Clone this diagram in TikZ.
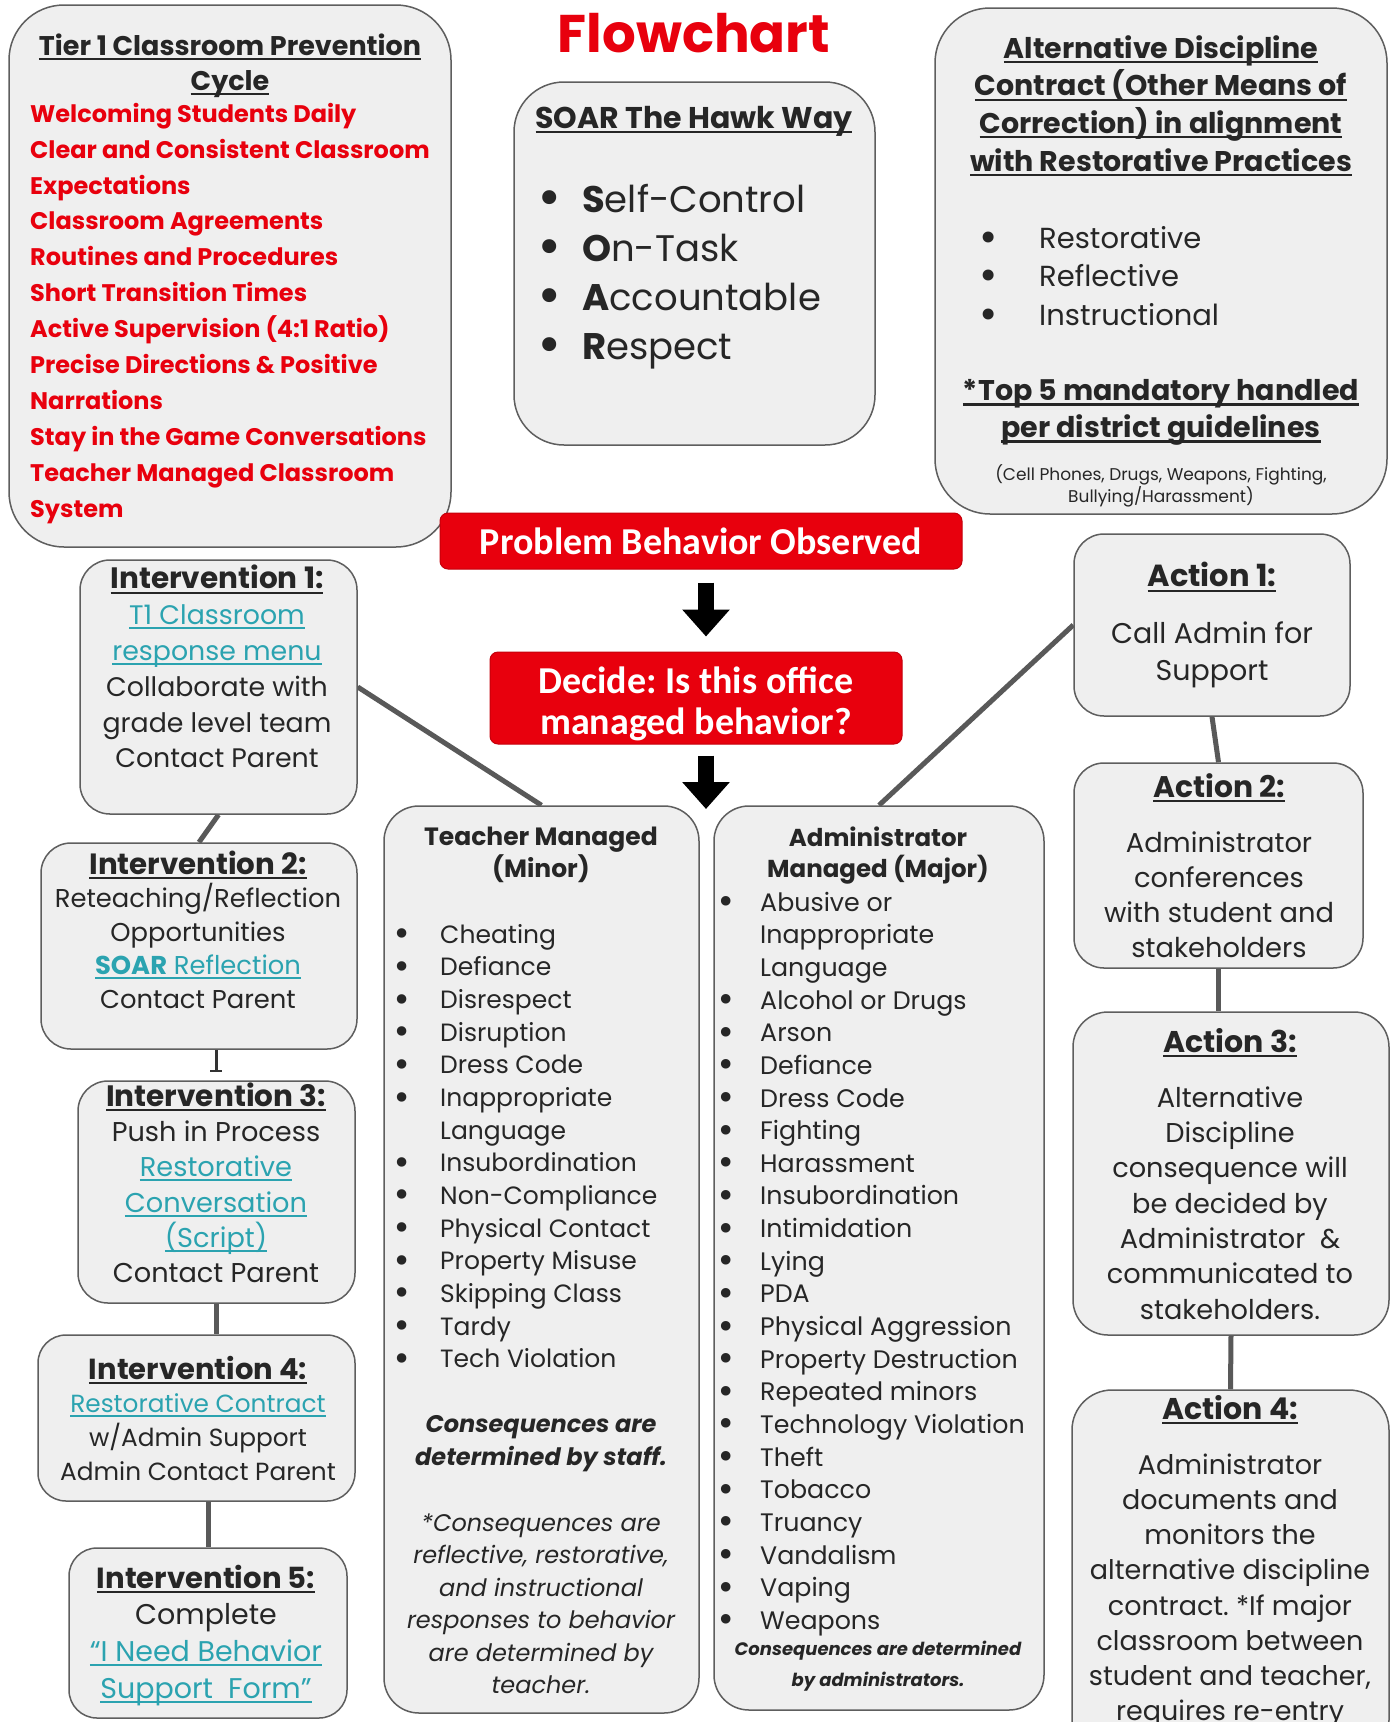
\documentclass[tikz,border=0pt]{standalone}
\usepackage{fontspec}
\usepackage{graphicx}
\setmainfont{Poppins}
\newfontfamily\crl{Carlito}
\newfontfamily\djv{DejaVu Sans}
\usetikzlibrary{fit,arrows.meta,calc}
\pgfdeclarelayer{bg}
\pgfsetlayers{bg,main}
\frenchspacing
\definecolor{boxfill}{HTML}{EFEFEF}
\definecolor{boxline}{HTML}{5E5E5E}
\definecolor{connc}{HTML}{595959}
\definecolor{myred}{HTML}{E8000D}
\definecolor{linkc}{HTML}{2BA3B0}
\definecolor{txtc}{HTML}{262626}
\newsavebox\ulbox
\newcommand\myul[1]{\sbox\ulbox{#1}\rlap{\rule[-0.17em]{\wd\ulbox}{0.075em}}\usebox\ulbox}
\newcommand\fl{\rule{0pt}{1em}}
\newcommand\fs[2]{\fontsize{#1}{#2}\selectfont}
\newcommand\lk[1]{{\color{linkc}\myul{#1}}}
\newcommand\hd[2]{{\fs{#1}{10}\bfseries\myul{#2}}}
\newcommand\bu{\makebox[0pt][c]{\raisebox{-0.1em}{\scalebox{1.3}{\djv •}}}}
\newcommand\lt[1]{\bu\hspace*{38pt}#1}
\newcommand\la[1]{\bu\hspace*{34pt}#1}
\begin{document}
\begin{tikzpicture}[x=1pt,y=-1pt,
  box/.style={draw=boxline,fill=boxfill,line width=1.5pt,inner sep=0pt},
  redbox/.style={fill=myred,draw=myred!85!black,line width=1pt,rounded corners=8pt,inner sep=0pt},
  conn/.style={draw=connc,line width=5pt},
  tx/.style={anchor=north,inner sep=0pt,align=center,text=txtc},
  txl/.style={anchor=north west,inner sep=0pt,align=left,text=txtc},
  redtx/.style={inner sep=0pt,align=center,text=white,font=\crl\bfseries\fs{38}{41}},
  blockarr/.style={line width=16pt,draw=black,-{Triangle[length=27pt 0 0,width=46pt 0 0]}}]
\begin{pgfonlayer}{bg}
\fill[white] (0,0) rectangle (1391,1722);
\end{pgfonlayer}
\useasboundingbox (0,0) rectangle (1391,1722);

% ---------- top boxes ----------
\node[box,rounded corners=55pt,fit={(9,5)(451,547)}] (tier) {};
\node[tx,font=\fs{27}{35}\bfseries] (tiert) at (230,55-27)
  {\fl\myul{Tier 1 Classroom Prevention}\\\myul{Cycle}};
\node[txl,font=\fs{24}{35.9}\bfseries,text=myred] (tierl) at (30,122-24)
  {\fl Welcoming Students Daily\\ Clear and Consistent Classroom\\ Expectations\\ Classroom Agreements\\ Routines and Procedures\\ Short Transition Times\\ Active Supervision (4:1 Ratio)\\ Precise Directions \& Positive\\ Narrations\\ Stay in the Game Conversations\\ Teacher Managed Classroom\\ System};

\node[anchor=base,inner sep=0pt,font=\fs{53}{55}\bfseries,text=myred] (title) at (694,52) {Flowchart};

\node[box,rounded corners=50pt,fit={(514,82)(875,445)}] (soar) {};
\node[tx,font=\fs{30}{32}\bfseries] (soart) at (694,128-30) {\fl\myul{SOAR The Hawk Way}};
\node[txl,font=\fs{37}{49}] (soarl) at (549,212-37)
  {\fl\bu\hspace*{33pt}\textbf{S}elf-Control\\ \bu\hspace*{33pt}\textbf{O}n-Task\\ \bu\hspace*{33pt}\textbf{A}ccountable\\ \bu\hspace*{33pt}\textbf{R}espect};

\node[box,rounded corners=55pt,fit={(935,8)(1387,514)}] (alt) {};
\node[tx,font=\fs{28.5}{37.7}\bfseries] (altt) at (1161,58-28.5)
  {\fl\myul{Alternative Discipline}\\ \myul{Contract (Other Means of}\\ \myul{Correction) in alignment}\\ \myul{with Restorative Practices}};
\node[txl,font=\fs{29}{38.5}] (altl) at (988,248-29)
  {\fl\bu\hspace*{51pt}Restorative\\ \bu\hspace*{51pt}Reflective\\ \bu\hspace*{51pt}Instructional};
\node[tx,font=\fs{28.5}{37}\bfseries] (top5) at (1161,400.5-28.5)
  {\fl\myul{*Top 5 mandatory handled}\\ \myul{per district guidelines}};
\node[tx,font=\fs{17}{22}] (cells) at (1161,480-17)
  {\fl(Cell Phones, Drugs, Weapons, Fighting,\\ Bullying/Harassment)};

% ---------- red decision boxes ----------
\node[redbox,minimum width=522pt,minimum height=56pt] (pbo) at (701,541) {};
\node[redtx] (pbot) at (pbo.center) {Problem Behavior Observed};
\node[redbox,minimum width=412pt,minimum height=92pt] (dec) at (696,698) {};
\node[redtx] (dect) at (696,704) {Decide: Is this office\\ managed behavior?};
\coordinate (ax) at (706,0);
\coordinate (split) at (706,809);
\draw[blockarr,shorten <=13pt,shorten >=15pt] (pbo.south -| ax) -- (dec.north -| ax);
\draw[blockarr,shorten <=11pt] (dec.south -| split) -- (split);

% ---------- interventions ----------
\node[box,rounded corners=30pt,fit={(80,560)(357,814)}] (int1) {};
\node[tx,font=\fs{26.8}{35.8}] (int1t) at (217,588.6-26.8)
  {\fl\hd{29.5}{Intervention 1:}\\ \lk{T1 Classroom}\\ \lk{response menu}\\ Collaborate with\\ grade level team\\ Contact Parent};
\node[box,rounded corners=30pt,fit={(41,843)(357,1049)}] (int2) {};
\node[tx,font=\fs{25.8}{33.5}] (int2t) at (198,874-25.8)
  {\fl\hd{29.3}{Intervention 2:}\\ Reteaching/Reflection\\ Opportunities\\ {\color{linkc}\myul{\textbf{SOAR} Reflection}}\\ Contact Parent};
\node[box,rounded corners=30pt,fit={(78,1081)(355,1303)}] (int3) {};
\node[tx,font=\fs{27.2}{35.3}] (int3t) at (216,1106-27.2)
  {\fl\hd{29.5}{Intervention 3:}\\ Push in Process\\ \lk{Restorative}\\ \lk{Conversation}\\ \lk{(Script)}\\ Contact Parent};
\node[box,rounded corners=28pt,fit={(38,1335)(355,1501)}] (int4) {};
\node[tx,font=\fs{24.8}{33.6}] (int4t) at (198,1379-24.8)
  {\fl\hd{29}{Intervention 4:}\\ \lk{Restorative Contract}\\ w/Admin Support\\ Admin Contact Parent};
\node[box,rounded corners=28pt,fit={(69,1548)(347,1718)}] (int5) {};
\node[tx,font=\fs{28.5}{36.7}] (int5t) at (206,1588-28.5)
  {\fl\hd{29.1}{Intervention 5:}\\ Complete\\ \lk{“I Need Behavior}\\ \lk{Support~ Form”}};

% ---------- teacher / admin ----------
\node[box,rounded corners=35pt,fit={(384,806)(699,1713)}] (teach) {};
\node[tx,font=\fs{25}{31.8}\bfseries] (teacht) at (541,845-25) {\fl Teacher Managed\\ (Minor)};
\node[txl,font=\fs{25}{32.66}] (teachl) at (402,943-25)
  {\fl\lt{Cheating}\\ \lt{Defiance}\\ \lt{Disrespect}\\ \lt{Disruption}\\ \lt{Dress Code}\\ \lt{Inappropriate}\\ \hspace*{38pt}Language\\ \lt{Insubordination}\\ \lt{Non-Compliance}\\ \lt{Physical Contact}\\ \lt{Property Misuse}\\ \lt{Skipping Class}\\ \lt{Tardy}\\ \lt{Tech Violation}};
\node[tx,font=\fs{24}{33}\bfseries\itshape] (teachc) at (541,1432-24) {\fl Consequences are\\ determined by staff.};
\node[tx,font=\fs{24}{32.5}\itshape] (teachn) at (541,1531-24)
  {\fl *Consequences are\\ reflective, restorative,\\ and instructional\\ responses to behavior\\ are determined by\\ teacher.};

\node[box,rounded corners=35pt,fit={(714,806)(1044,1710)}] (adm) {};
\node[tx,font=\fs{24.5}{31.6}\bfseries] (admt) at (878,846-24.5) {\fl Administrator\\ Managed (Major)};
\node[txl,font=\fs{25.3}{32.64}] (adml) at (726,911-25.3)
  {\fl\la{Abusive or}\\ \hspace*{34pt}Inappropriate\\ \hspace*{34pt}Language\\ \la{Alcohol or Drugs}\\ \la{Arson}\\ \la{Defiance}\\ \la{Dress Code}\\ \la{Fighting}\\ \la{Harassment}\\ \la{Insubordination}\\ \la{Intimidation}\\ \la{Lying}\\ \la{PDA}\\ \la{Physical Aggression}\\ \la{Property Destruction}\\ \la{Repeated minors}\\ \la{Technology Violation}\\ \la{Theft}\\ \la{Tobacco}\\ \la{Truancy}\\ \la{Vandalism}\\ \la{Vaping}\\ \la{Weapons}};
\node[tx,font=\fs{18}{31}\bfseries\itshape] (admc) at (878,1655-18) {\fl Consequences are determined\\ by administrators.};

% ---------- actions ----------
\node[box,rounded corners=30pt,fit={(1074,534)(1350,716)}] (act1) {};
\node[tx,font=\fs{28.5}{37}] (act1t) at (1212,586.5-28.5) {\fl\hd{30.5}{Action 1:}\\[20pt] Call Admin for\\ Support};
\node[box,rounded corners=30pt,fit={(1074,763)(1363,968)}] (act2) {};
\node[tx,font=\fs{27.3}{35.2}] (act2t) at (1219,797-27.3) {\fl\hd{29.8}{Action 2:}\\[19.7pt] Administrator\\ conferences\\ with student and\\ stakeholders};
\node[box,rounded corners=35pt,fit={(1073,1012)(1389,1335)}] (act3) {};
\node[tx,font=\fs{27.2}{35.3}] (act3t) at (1230,1052-27.2) {\fl\hd{30}{Action 3:}\\[19.7pt] Alternative\\ Discipline\\ consequence will\\ be decided by\\ Administrator~ \&\\ communicated to\\ stakeholders.};
\node[box,rounded corners=40pt,fit={(1072,1390)(1389,1760)}] (act4) {};
\node[tx,font=\fs{27}{35.2}] (act4t) at (1230,1419-27) {\fl\hd{30}{Action 4:}\\[19.8pt] Administrator\\ documents and\\ monitors the\\ alternative discipline\\ contract. *If major\\ classroom between\\ student and teacher,\\ requires re-entry};

% ---------- connectors ----------
\coordinate (i23) at (216,1071);
\draw[line width=3pt,draw=black!80] (int2.south -| i23) -- (i23);
\draw[line width=2pt,draw=black!80] ([xshift=-6pt]i23) -- ([xshift=6pt]i23);
\begin{pgfonlayer}{bg}
\draw[conn] (int1.east) -- (teach.north);
\draw[conn] (act1.west) -- (adm.north);
\draw[conn] (int1.south) -- (int2.north);
\draw[conn] (int3.south) -- (int3.south |- int4.north);
\draw[conn] (int5.north |- int4.south) -- (int5.north);
\draw[conn] (act1.south) -- (act2.north);
\draw[conn] (act2.south) -- (act2.south |- act3.north);
\draw[conn] (act3.south) -- (act4.north);
\end{pgfonlayer}
\end{tikzpicture}
\end{document}
